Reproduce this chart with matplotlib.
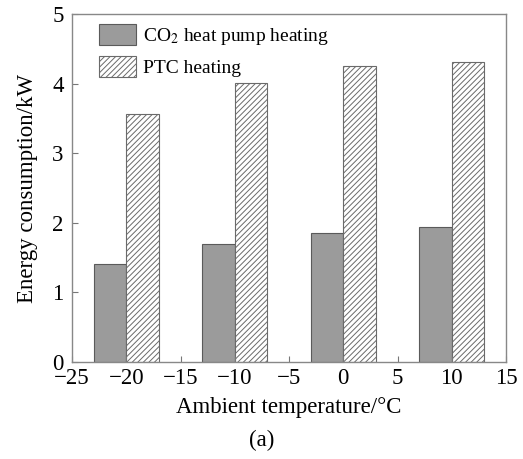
import numpy as np
import matplotlib
matplotlib.use("Agg")
import matplotlib.pyplot as plt

plt.rcParams['font.family'] = ['Liberation Serif', 'DejaVu Serif']
plt.rcParams['mathtext.fontset'] = 'stix'
plt.rcParams['hatch.color'] = '#707070'
plt.rcParams['hatch.linewidth'] = 0.7

# data
temps = [-20, -10, 0, 10]
heat_pump = [1.41, 1.69, 1.85, 1.94]
ptc = [3.56, 4.01, 4.26, 4.31]
bar_w = 3

fig = plt.figure(figsize=(5.23, 4.59), dpi=100)
ax = fig.add_axes([0.1377, 0.2113, 0.8298, 0.7582])

x = np.array(temps)
ax.bar(x - bar_w, heat_pump, width=bar_w, align='edge', color='#9b9b9b',
       edgecolor='#5a5a5a', linewidth=0.8, label=r'CO$_2$ heat pump heating')
ax.bar(x, ptc, width=bar_w, align='edge', color='white', hatch='//////',
       edgecolor='#6a6a6a', linewidth=0.8, label='PTC heating')

ax.set_xlim(-25, 15)
ax.set_ylim(0, 5)
ax.set_xticks(range(-25, 16, 5))
ax.set_yticks(range(0, 6))
ax.set_xticklabels([str(t).replace('-', '\u2212') for t in range(-25, 16, 5)])
ax.tick_params(direction='in', length=4, width=0.8, color='#777777',
               labelsize=16.5)
ax.tick_params(axis='x', pad=4)
ax.tick_params(axis='y', pad=6)
for s in ax.spines.values():
    s.set_color('#888888')
    s.set_linewidth(1.0)

ax.set_xlabel('Ambient temperature/\u00b0C', fontsize=16.5, labelpad=6)
ax.set_ylabel('Energy consumption/kW', fontsize=16.5, labelpad=10)

ax.legend(loc='upper left', frameon=False, fontsize=14, handlelength=1.9,
          handleheight=1.3, borderaxespad=0.1, bbox_to_anchor=(0.04, 1.0),
          labelspacing=0.45, handletextpad=0.35)

fig.text(0.5, 0.04, '(a)', ha='center', va='center', fontsize=16.5)

fig.savefig('out.png', dpi=100)
